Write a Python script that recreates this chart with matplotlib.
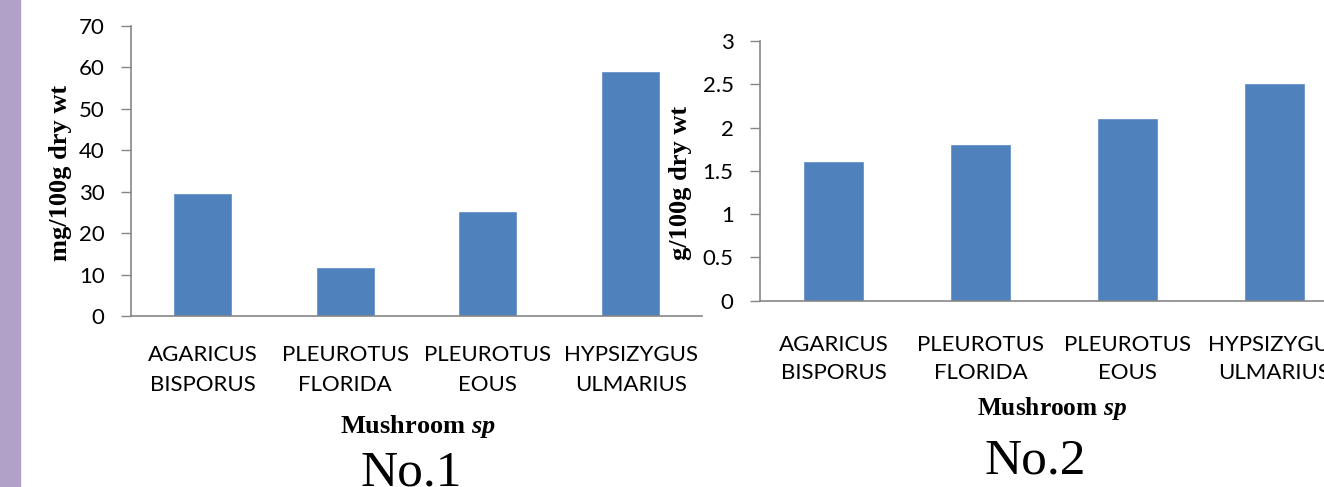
import numpy as np
import matplotlib
matplotlib.use("Agg")
import matplotlib.pyplot as plt
from matplotlib.patches import Rectangle

plt.rcParams['mathtext.fontset'] = 'custom'
plt.rcParams['mathtext.it'] = 'Liberation Serif:italic:bold'
plt.rcParams['mathtext.rm'] = 'Liberation Serif:bold'

species = ["AGARICUS\nBISPORUS", "PLEUROTUS\nFLORIDA", "PLEUROTUS\nEOUS", "HYPSIZYGUS\nULMARIUS"]
vals1 = [29.5, 11.5, 25, 59]      # mg/100g dry wt
vals2 = [1.6, 1.8, 2.1, 2.5]      # g/100g dry wt
ticks1 = [0, 10, 20, 30, 40, 50, 60, 70]
ticks2 = [0, 0.5, 1, 1.5, 2, 2.5, 3]
tick2_labels = ["0", "0.5", "1", "1.5", "2", "2.5", "3"]

W, H = 1324, 487
fig = plt.figure(figsize=(W / 100, H / 100), dpi=100)
fig.add_artist(Rectangle((0, 0), 20 / W, 1, transform=fig.transFigure,
                         color='#B1A0C7', zorder=0))

sans = 'Lato'
serif = 'Liberation Serif'
bar_c = '#4F81BD'
grey = '#868686'


def setup(ax, vals, ticks, ticklabels, ylab, ymax, xpad, lsp, xlab_size):
    x = np.arange(len(vals))
    ax.bar(x, vals, width=0.4, color=bar_c, edgecolor='#6A95CB', linewidth=0.6)
    ax.set_xlim(-0.5, len(vals) - 0.5)
    ax.set_ylim(0, ymax)
    ax.set_yticks(ticks)
    ax.set_yticklabels(ticklabels, fontfamily=sans, fontsize=16)
    ax.set_xticks(x)
    ax.set_xticklabels(species, fontfamily=sans, fontsize=16, linespacing=lsp)
    ax.tick_params(axis='x', length=0, pad=xpad)
    ax.tick_params(axis='y', length=7, color=grey, width=1, pad=12)
    for s in ['top', 'right']:
        ax.spines[s].set_visible(False)
    for s in ['left', 'bottom']:
        ax.spines[s].set_color(grey)
        ax.spines[s].set_linewidth(1.2)
    ax.set_ylabel(ylab, fontfamily=serif, fontweight='bold', fontsize=19)
    ax.set_xlabel(r"Mushroom $sp$", fontfamily=serif, fontweight='bold', fontsize=xlab_size)


ax1 = fig.add_axes([131 / W, (H - 316) / H, 571 / W, 290 / H])
setup(ax1, vals1, ticks1, [str(t) for t in ticks1], "mg/100g dry wt", 70, 21, 1.6, 19)
ax1.yaxis.set_label_coords(-0.103, 0.493)
ax1.xaxis.set_label_coords(0.502, -0.333)

ax2 = fig.add_axes([760 / W, (H - 300.7) / H, 588 / W, 259.7 / H])
setup(ax2, vals2, ticks2, tick2_labels, "g/100g dry wt", 3, 25, 1.45, 18.3)
ax2.yaxis.set_label_coords(-0.115, 0.453)
ax2.xaxis.set_label_coords(0.497, -0.362)

fig.text(411 / W, 1 - 450 / H, "No.1", fontfamily=serif, fontsize=37, ha='center', va='top')
fig.text(1035 / W, 1 - 438 / H, "No.2", fontfamily=serif, fontsize=37, ha='center', va='top')

fig.savefig("out.png", dpi=100)
